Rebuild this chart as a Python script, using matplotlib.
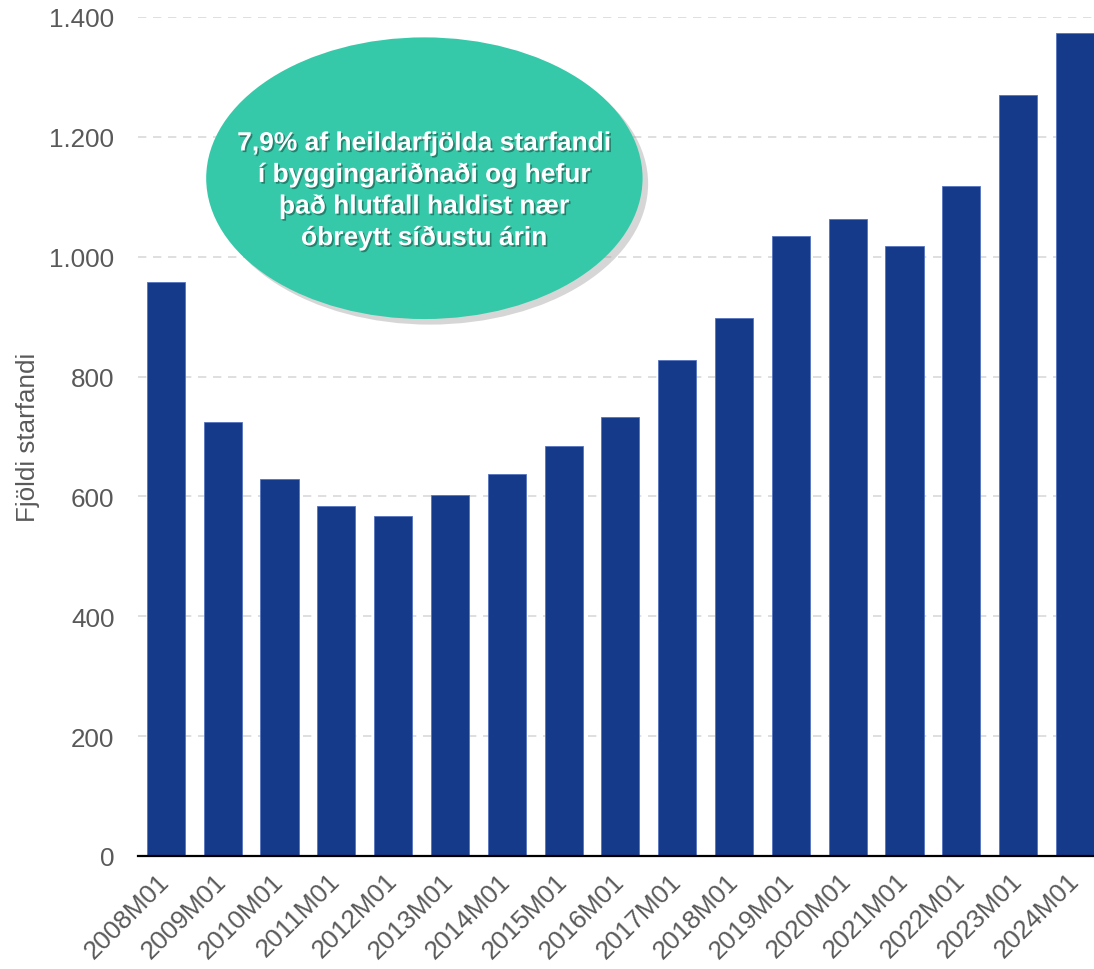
import matplotlib
matplotlib.use('Agg')
from matplotlib import pyplot as plt
from matplotlib.patches import Ellipse
import matplotlib.patheffects as pe

periods = ['2008M01', '2009M01', '2010M01', '2011M01', '2012M01', '2013M01',
           '2014M01', '2015M01', '2016M01', '2017M01', '2018M01', '2019M01',
           '2020M01', '2021M01', '2022M01', '2023M01', '2024M01']
employed = [958, 724, 629, 584, 567, 602, 637, 684, 732, 828, 898, 1035,
            1063, 1018, 1118, 1270, 1373]
y_ticks = [0, 200, 400, 600, 800, 1000, 1200, 1400]
y_tick_labels = ['0', '200', '400', '600', '800', '1.000', '1.200', '1.400']
note = ('7,9% af heildarfjölda starfandi\n'
        'í byggingariðnaði og hefur\n'
        'það hlutfall haldist nær\n'
        'óbreytt síðustu árin')

plt.rcParams['font.family'] = ['Liberation Sans', 'DejaVu Sans']

fig = plt.figure(figsize=(10.94, 9.70), dpi=100)
ax = fig.add_axes([138 / 1094, 1 - 857 / 970, 1 - 138 / 1094, (857 - 18) / 970])

x = list(range(len(periods)))
ax.bar(x, employed, width=0.67, color='#163A8A', edgecolor='#5573c0',
       linewidth=0.6, zorder=3)

ax.set_xlim(-0.49, len(periods) - 1 + 0.335)
ax.set_ylim(0, 1400)
ax.set_yticks(y_ticks)
ax.set_yticklabels(y_tick_labels)
ax.set_xticks(x)
ax.set_xticklabels(periods, rotation=45, ha='right', va='center',
                   rotation_mode='anchor')

ax.tick_params(axis='y', length=0, pad=17, labelsize=18.7, labelcolor='#595959')
ax.tick_params(axis='x', length=0, pad=15, labelsize=18.7, labelcolor='#595959')

ax.grid(axis='y', color='#D9D9D9', linestyle=(0, (5, 4)), linewidth=1.2, zorder=0)
ax.set_axisbelow(True)
for side in ['top', 'right', 'left']:
    ax.spines[side].set_visible(False)
ax.spines['bottom'].set_color('black')
ax.spines['bottom'].set_linewidth(1.6)
ax.spines['bottom'].set_zorder(4)

ax.set_ylabel('Fjöldi starfandi', fontsize=18.7, color='#595959')
ax.yaxis.set_label_coords(-98 / 956, 0.5)

oval = Ellipse((4.55, 1131), width=7.68, height=470, facecolor='#36C9A9',
               edgecolor='none', zorder=5)
oval.set_path_effects([pe.SimplePatchShadow(offset=(4, -4), shadow_rgbFace='#9a9a9a',
                                            alpha=0.4), pe.Normal()])
ax.add_patch(oval)

ax.text(4.55, 1110, note, ha='center', va='center', color='white',
        fontsize=19, fontweight='bold', linespacing=1.38, zorder=6,
        path_effects=[pe.withSimplePatchShadow(offset=(1.2, -1.2),
                                               shadow_rgbFace='black', alpha=0.35)])

fig.savefig('out.png', dpi=100)
